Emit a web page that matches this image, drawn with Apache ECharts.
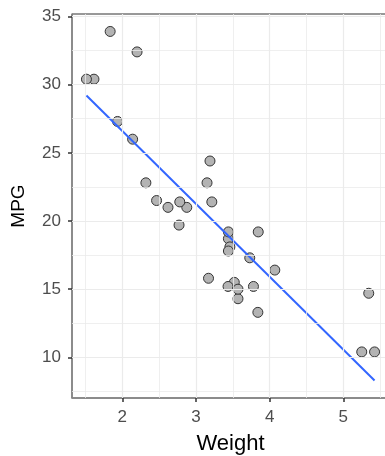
<!DOCTYPE html>
<html><head><meta charset="utf-8">
<script src="https://cdn.jsdelivr.net/npm/echarts@6/dist/echarts.min.js"></script>
<style>html,body{margin:0;padding:0;background:#fff}#c{width:385px;height:456px}</style>
</head><body><div id="c"></div>
<script>
// mtcars: weight (1000 lbs) and MPG
const weight = [2.620,2.875,2.320,3.215,3.440,3.460,3.570,3.190,3.150,3.440,3.440,4.070,3.730,3.780,5.250,5.424,5.345,2.200,1.615,1.835,2.465,3.520,3.435,3.840,3.845,1.935,2.140,1.513,3.170,2.770,3.570,2.780];
const mpg = [21.0,21.0,22.8,21.4,18.7,18.1,14.3,24.4,22.8,19.2,17.8,16.4,17.3,15.2,10.4,10.4,14.7,32.4,30.4,33.9,21.5,15.5,15.2,13.3,19.2,27.3,26.0,30.4,15.8,19.7,15.0,21.4];
// fitted line endpoints
const fitX = [1.513, 5.424];
const fitY = [29.2, 8.3];
const xTicks = [2,3,4,5];
const xMinor = [1.5,2.5,3.5,4.5,5.5];
const yTicks = [10,15,20,25,30,35];
const yMinor = [7.5,12.5,17.5,22.5,27.5,32.5];

const font = '"Liberation Sans", Arial, sans-serif';
const chart = echarts.init(document.getElementById('c'), null, {renderer:'canvas'});
const gridLine = (v, axis, w) => ({[axis]: v, lineStyle:{color:'#ebebeb', width:w, type:'solid'}});
chart.setOption({
  animation:false,
  grid:{left:72, top:14, right:-4, bottom:58, show:true, borderColor:'#333', borderWidth:1, containLabel:false, outerBoundsMode:'none'},
  xAxis:{type:'value', min:1.317, max:5.62, name:'Weight', nameLocation:'middle', nameGap:35,
    nameTextStyle:{color:'#000', fontSize:22, fontFamily:font},
    splitLine:{show:false},
    axisLine:{show:true, onZero:false, lineStyle:{color:'#888', width:1.5}},
    axisTick:{show:true, customValues:xTicks, length:4, lineStyle:{color:'#333', width:1.5}},
    axisLabel:{customValues:xTicks, color:'#4d4d4d', fontSize:17, fontFamily:font, margin:11}},
  yAxis:{type:'value', min:7.02, max:35.18, name:'MPG', nameLocation:'middle', nameGap:44,
    nameTextStyle:{color:'#000', fontSize:19, fontFamily:font},
    splitLine:{show:false},
    axisLine:{show:true, onZero:false, lineStyle:{color:'#888', width:1.5}},
    axisTick:{show:true, customValues:yTicks, length:4, lineStyle:{color:'#333', width:1.5}},
    axisLabel:{customValues:yTicks, color:'#4d4d4d', fontSize:17, fontFamily:font, margin:11}},
  series:[
    {type:'line', data:[], silent:true, markLine:{silent:true, symbol:'none', label:{show:false}, animation:false,
      data:[...xMinor.map(v=>gridLine(v,'xAxis',0.8)), ...xTicks.map(v=>gridLine(v,'xAxis',1.2)),
            ...yMinor.map(v=>gridLine(v,'yAxis',0.8)), ...yTicks.map(v=>gridLine(v,'yAxis',1.2))]}},
    {type:'scatter', data:weight.map((w,i)=>[w,mpg[i]]), symbolSize:10,
      itemStyle:{color:'#b3b3b3', borderColor:'#333', borderWidth:1, opacity:1}, z:3},
    {type:'line', data:fitX.map((x,i)=>[x,fitY[i]]), symbol:'none', lineStyle:{color:'#3366ff', width:2}, z:4}
  ]
});
</script></body></html>
